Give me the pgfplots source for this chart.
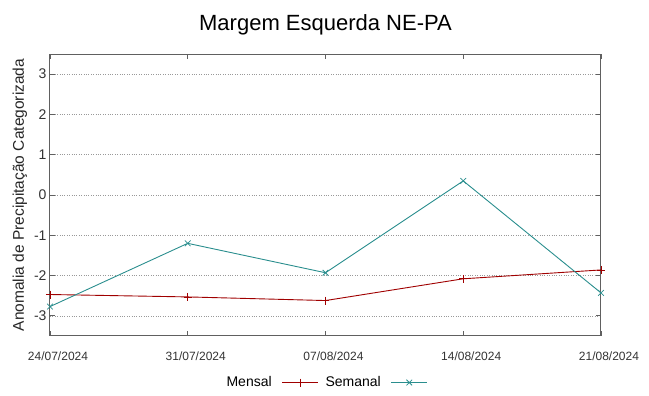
\documentclass[border=0pt]{standalone}
\usepackage{fontspec}
\setmainfont{Liberation Sans}
\usepackage{pgfplots}
\pgfplotsset{compat=1.18}
\definecolor{mred}{HTML}{A00000}
\definecolor{mteal}{HTML}{2A8E8E}
\definecolor{axgray}{HTML}{606060}
\begin{document}
\begin{tikzpicture}[x=1pt,y=1pt]
\useasboundingbox (-50,-60) rectangle (599,336);
\begin{axis}[
  at={(0,0)}, anchor=south west,
  scale only axis, width=551pt, height=282pt,
  xmin=0, xmax=4, ymin=-3.5, ymax=3.5,
  xtick={0,1,2,3,4},
  xticklabels={24/07/2024,31/07/2024,07/08/2024,14/08/2024,21/08/2024},
  ytick={-3,-2,-1,0,1,2,3},
  tick align=inside,
  major tick length=5pt,
  axis line style={axgray, line width=1pt},
  every tick/.style={axgray, line width=0.8pt},
  ymajorgrids,
  grid style={gray!80, dotted, line width=0.6pt},
  /pgf/number format/assume math mode=true,
  yticklabel style={font=\fontsize{14}{14}\selectfont, text=black!80},
  xticklabel style={font=\fontsize{12}{12}\selectfont, text=black!80, yshift=-12pt, xshift=8pt},
  ylabel={Anomalia de Precipitação Categorizada},
  ylabel style={font=\fontsize{15.5}{15.5}\selectfont, text=black!85, at={(ticklabel cs:0.5)}, yshift=0pt},
  title={Margem Esquerda NE-PA},
  title style={font=\fontsize{22}{22}\selectfont, at={(0.5,1)}, yshift=18pt, anchor=base},
  legend columns=2,
  legend plot pos=right,
  legend style={draw=none, fill=none, at={(0.503,-0.165)}, anchor=center,
    font=\fontsize{14}{14}\selectfont,
    /tikz/every even column/.append style={column sep=3pt}},
  legend image code/.code={
    \path (0pt,0pt) (46pt,0pt);
    \draw[#1, mark repeat=2, mark phase=2] plot coordinates {(8pt,0pt) (26pt,0pt) (44pt,0pt)};
  },
  clip=false,
]
\addplot[mred, line width=0.9pt, mark=+, mark size=4pt, mark options={line width=0.8pt}]
  coordinates {(0,-2.47) (1,-2.53) (2,-2.62) (3,-2.08) (4,-1.86)};
\addlegendentry{Mensal}
\addplot[mteal, line width=0.9pt, mark=x, mark size=4pt, mark options={line width=0.8pt}]
  coordinates {(0,-2.77) (1,-1.20) (2,-1.93) (3,0.35) (4,-2.43)};
\addlegendentry{Semanal}
\end{axis}
\end{tikzpicture}
\end{document}
